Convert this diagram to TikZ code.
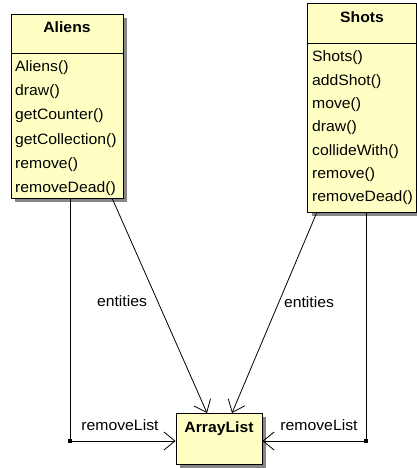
\documentclass[tikz,border=0pt]{standalone}
\usepackage{fontspec}
\setmainfont[FakeStretch=1.05]{Liberation Sans}
\usetikzlibrary{arrows.meta,shadows}
\definecolor{classfill}{RGB}{255,255,196}
\definecolor{shade}{RGB}{135,135,135}
\begin{document}
\begin{tikzpicture}[x=1pt,y=-1pt,
  classbox/.style={draw=black, line width=0.9pt, fill=classfill, inner sep=0pt,
    rectangle, drop shadow={shadow xshift=4pt, shadow yshift=-4pt, fill=shade, opacity=1}},
  title/.style={font=\fontsize{15}{17}\selectfont\bfseries, inner sep=0pt, anchor=base},
  op/.style={font=\fontsize{15}{17}\selectfont, inner sep=0pt, anchor=base west},
  lbl/.style={font=\fontsize{15}{17}\selectfont, inner sep=0pt, anchor=base},
  conn/.style={line width=0.8pt},
  assoc/.style={conn, -{Straight Barb[length=11pt, width=18pt, line width=0.8pt]}},
  bendpt/.style={rectangle, fill=black, inner sep=0pt, minimum size=3.5pt}
]
\useasboundingbox (0,0) rectangle (417,468);

% class Aliens
\node[classbox, minimum width=112pt, minimum height=184pt] (aliens) at (67,106) {};
\draw[conn] (aliens.west |- 0,53) coordinate (aliens-hl) -- (aliens.east |- 0,53) coordinate (aliens-hr);
\node[title] (aliens-title) at (67,33) {Aliens};
\foreach \m [count=\i from 0] in {Aliens(),draw(),getCounter(),getCollection(),remove(),removeDead()}
  \node[op] (aliens-op\i) at (15,72+24*\i) {\m};

% class Shots
\node[classbox, minimum width=109pt, minimum height=209pt] (shots) at (362,107.5) {};
\draw[conn] (shots.west |- 0,43) coordinate (shots-hl) -- (shots.east |- 0,43) coordinate (shots-hr);
\node[title] (shots-title) at (362,22.5) {Shots};
\foreach \m [count=\i from 0] in {Shots(),addShot(),move(),draw(),collideWith(),remove(),removeDead()}
  \node[op] (shots-op\i) at (312,62+23.3*\i) {\m};

% class ArrayList
\node[classbox, minimum width=86pt, minimum height=51pt] (arraylist) at (219,438.5) {};
\node[title] (arraylist-title) at (219,432.5) {ArrayList};

% associations "entities"
\coordinate (ent-a) at (112,198);
\coordinate (ent-b) at (317,212);
\coordinate (ent-a-end) at (207,413);
\coordinate (ent-b-end) at (232,413);
\draw[assoc] (ent-a) -- (ent-a-end);
\draw[assoc] (ent-b) -- (ent-b-end);
\node[lbl] (ent-a-lbl) at (122,306) {entities};
\node[lbl] (ent-b-lbl) at (309,307) {entities};

% associations "removeList"
\node[bendpt] (bend-a) at (70,441) {};
\node[bendpt] (bend-b) at (366,441) {};
\draw[conn] (bend-a |- aliens.south) -- (bend-a.center);
\draw[assoc] (bend-a.center) -- (bend-a.center -| arraylist.west);
\draw[conn] (bend-b |- shots.south) -- (bend-b.center);
\draw[assoc] (bend-b.center) -- (bend-b.center -| arraylist.east);
\node[lbl] (rl-a-lbl) at (120,430) {removeList};
\node[lbl] (rl-b-lbl) at (319,430) {removeList};
\end{tikzpicture}
\end{document}
